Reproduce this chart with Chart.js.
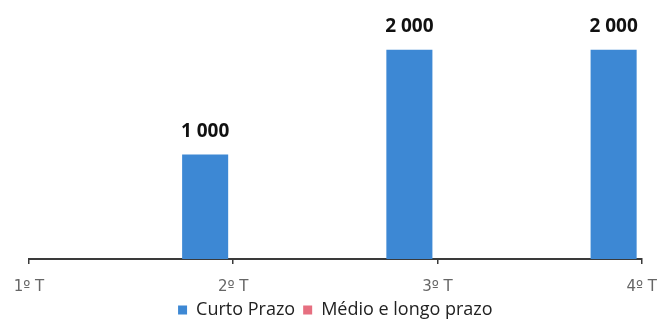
<!DOCTYPE html>
<html>
<head>
<meta charset="utf-8">
<script src="https://cdn.jsdelivr.net/npm/chart.js@4.4.0/dist/chart.umd.min.js"></script>
<style>
  html, body { margin: 0; padding: 0; background: #ffffff; overflow: hidden; }
  #wrap { position: relative; width: 660px; height: 321px; }
</style>
</head>
<body>
<div id="wrap"><canvas id="c"></canvas></div>
<script>
// Quarterly issuance by maturity
const quarters = ['1º T', '2º T', '3º T', '4º T'];
const curtoPrazo = [0, 1000, 2000, 2000];
const medioLongoPrazo = [0, 0, 0, 0];
const seriesNames = ['Curto Prazo', 'Médio e longo prazo'];

const fmt = v => String(v).replace(/\B(?=(\d{3})+(?!\d))/g, ' ');

// Bold value labels above the short-term bars
const valueLabels = {
  id: 'valueLabels',
  afterDatasetsDraw(chart) {
    const ctx = chart.ctx;
    const meta = chart.getDatasetMeta(0);
    ctx.save();
    ctx.font = 'bold 19px "Open Sans", sans-serif';
    ctx.fillStyle = '#111111';
    ctx.textAlign = 'center';
    ctx.textBaseline = 'middle';
    meta.data.forEach((bar, i) => {
      const v = chart.data.datasets[0].data[i];
      if (v > 0) ctx.fillText(fmt(v), bar.x, bar.y - 23);
    });
    ctx.restore();
  }
};

new Chart(document.getElementById('c'), {
  type: 'bar',
  data: {
    labels: quarters,
    datasets: [
      { label: seriesNames[0], data: curtoPrazo, backgroundColor: '#3d88d4',
        barPercentage: 0.82, categoryPercentage: 0.55 },
      { label: seriesNames[1], data: medioLongoPrazo, backgroundColor: '#e66f80',
        barPercentage: 0.82, categoryPercentage: 0.55 }
    ]
  },
  options: {
    responsive: true,
    maintainAspectRatio: false,
    animation: false,
    layout: { padding: { left: 29, right: 18.3, top: 8, bottom: -8 } },
    plugins: {
      legend: {
        position: 'bottom',
        labels: {
          boxWidth: 9, boxHeight: 9, padding: 8,
          color: '#222222',
          font: { family: '"Open Sans", sans-serif', size: 18 }
        }
      },
      tooltip: { enabled: false }
    },
    scales: {
      x: {
        offset: false,
        afterFit: scale => {
          scale.height = 34;
          scale.paddingLeft = 0;
          scale.paddingRight = 0;
        },
        grid: { offset: false, drawOnChartArea: false, drawTicks: true, tickLength: 5,
                color: '#3a3a3a', lineWidth: 1.5 },
        border: { color: '#3a3a3a', width: 2 },
        ticks: { color: '#666666', padding: 14,
                 font: { family: '"DejaVu Sans", sans-serif', size: 15 } }
      },
      y: {
        display: false,
        min: 0,
        max: 2400
      }
    }
  },
  plugins: [valueLabels]
});
</script>
</body>
</html>
